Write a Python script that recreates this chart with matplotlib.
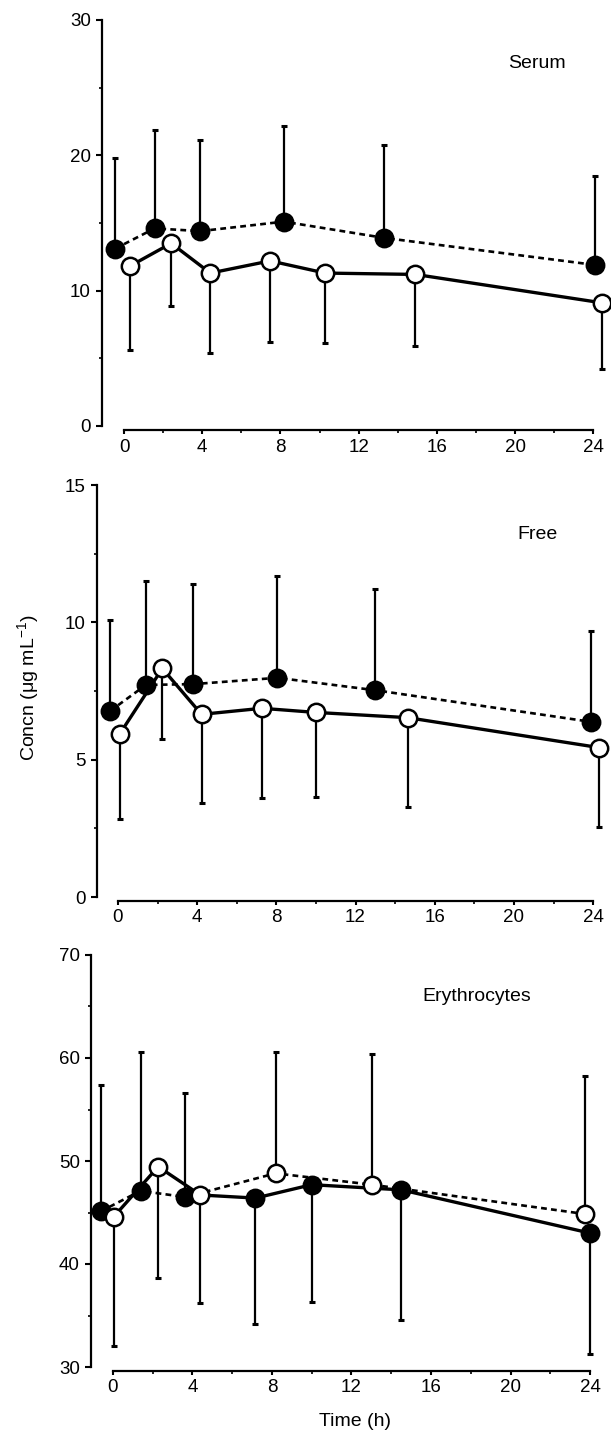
import matplotlib
matplotlib.use("Agg")
import matplotlib.pyplot as plt
from matplotlib.ticker import MultipleLocator
import numpy as np

plt.rcParams['font.family'] = ['Liberation Sans', 'DejaVu Sans']
plt.rcParams['mathtext.fontset'] = 'custom'
plt.rcParams['mathtext.rm'] = 'Liberation Sans'
plt.rcParams['mathtext.it'] = 'Liberation Sans:italic'

# series A: dashed line, error bars upwards
# series B: solid line, error bars downwards

# Serum
serum_t_a = [-0.46, 1.56, 3.9, 8.17, 13.3, 24.1]
serum_a = [13.1, 14.6, 14.4, 15.1, 13.9, 11.9]
serum_a_hi = [19.8, 21.9, 21.1, 22.2, 20.8, 18.5]
serum_t_b = [0.28, 2.41, 4.41, 7.47, 10.29, 14.9, 24.45]
serum_b = [11.8, 13.5, 11.3, 12.2, 11.3, 11.2, 9.1]
serum_b_lo = [5.6, 8.9, 5.4, 6.2, 6.1, 5.9, 4.2]

# Free
free_t_a = [-0.4, 1.41, 3.8, 8.05, 12.98, 23.87]
free_a = [6.77, 7.72, 7.75, 7.98, 7.53, 6.38]
free_a_hi = [10.1, 11.5, 11.4, 11.7, 11.2, 9.7]
free_t_b = [0.1, 2.24, 4.22, 7.26, 10.0, 14.63, 24.3]
free_b = [5.95, 8.32, 6.65, 6.87, 6.72, 6.53, 5.44]
free_b_lo = [2.84, 5.77, 3.41, 3.62, 3.65, 3.28, 2.56]

# Erythrocytes
ery_t_a = [-0.62, 1.39, 3.65, 8.18, 13.03, 23.75]
ery_a = [45.1, 47.1, 46.5, 48.8, 47.7, 44.85]
ery_a_hi = [57.4, 60.6, 56.6, 60.6, 60.4, 58.3]
ery_t_b = [0.05, 2.28, 4.4, 7.17, 10.0, 14.5, 24.0]
ery_b = [44.6, 49.45, 46.7, 46.4, 47.7, 47.2, 43.0]
ery_b_lo = [32.0, 38.6, 36.2, 34.2, 36.3, 34.6, 31.3]

panels = [
    dict(name="Serum", ta=serum_t_a, ya=serum_a, hi=serum_a_hi,
         tb=serum_t_b, yb=serum_b, lo=serum_b_lo,
         fill_a=[1] * 6, fill_b=[0] * 7,
         ylim=(0, 30), major=10, minor=5, label_xy=(21.1, 26.75),
         rect=[102 / 611, 1011 / 1437, 503 / 611, 406 / 1437], xlim=(-1.13, 24.6)),
    dict(name="Free", ta=free_t_a, ya=free_a, hi=free_a_hi,
         tb=free_t_b, yb=free_b, lo=free_b_lo,
         fill_a=[1] * 6, fill_b=[0] * 7,
         ylim=(0, 15), major=5, minor=2.5, label_xy=(21.2, 13.2),
         rect=[97 / 611, 540 / 1437, 508 / 611, 412 / 1437], xlim=(-1.06, 24.6)),
    dict(name="Erythrocytes", ta=ery_t_a, ya=ery_a, hi=ery_a_hi,
         tb=ery_t_b, yb=ery_b, lo=ery_b_lo,
         fill_a=[1, 1, 1, 0, 0, 0], fill_b=[0, 0, 0, 1, 1, 1, 1],
         ylim=(30, 70), major=10, minor=5, label_xy=(18.3, 66.0),
         rect=[91 / 611, 70 / 1437, 511 / 611, 412 / 1437], xlim=(-1.1, 24.6)),
]

fig = plt.figure(figsize=(6.11, 14.37), dpi=100)

for p in panels:
    ax = fig.add_axes(p["rect"])
    ta, ya, hi = np.array(p["ta"]), np.array(p["ya"]), np.array(p["hi"])
    tb, yb, lo = np.array(p["tb"]), np.array(p["yb"]), np.array(p["lo"])

    ax.errorbar(ta, ya, yerr=[np.zeros_like(ya), hi - ya], fmt='none',
                ecolor='k', elinewidth=1.6, capsize=2.5, capthick=2.2, zorder=2)
    ax.errorbar(tb, yb, yerr=[yb - lo, np.zeros_like(yb)], fmt='none',
                ecolor='k', elinewidth=1.6, capsize=2.5, capthick=2.2, zorder=2)

    ax.plot(ta, ya, color='k', lw=1.9, dashes=(2.2, 1.6), zorder=3, clip_on=False)
    ax.plot(tb, yb, color='k', lw=2.4, zorder=3, clip_on=False)

    for t, y, f in list(zip(ta, ya, p["fill_a"])) + list(zip(tb, yb, p["fill_b"])):
        ax.plot(t, y, 'o', ms=12.5, mfc='k' if f else 'w', mec='k', mew=1.8,
                zorder=4, clip_on=False)

    ax.text(p["label_xy"][0], p["label_xy"][1], p["name"], fontsize=14,
            ha='center', va='center')

    ax.set_xlim(*p["xlim"])
    ax.set_ylim(*p["ylim"])
    ax.xaxis.set_major_locator(MultipleLocator(4))
    ax.xaxis.set_minor_locator(MultipleLocator(2))
    ax.yaxis.set_major_locator(MultipleLocator(p["major"]))
    ax.yaxis.set_minor_locator(MultipleLocator(p["minor"]))

    for s in ["top", "right"]:
        ax.spines[s].set_visible(False)
    ax.spines["left"].set_linewidth(1.6)
    ax.spines["bottom"].set_linewidth(1.6)
    ax.spines["bottom"].set_position(("outward", 3))
    ax.spines["bottom"].set_bounds(0, 24)
    ax.spines["left"].set_bounds(*p["ylim"])

    ax.tick_params(axis='y', which='major', length=4, width=1.5, pad=4, labelsize=13.5)
    ax.tick_params(axis='y', which='minor', length=2, width=1.2)
    ax.tick_params(axis='x', which='major', length=3, width=1.5, pad=3, labelsize=13.5)
    ax.tick_params(axis='x', which='minor', length=2, width=1.2)

fig.text(28 / 611, 1 - 688 / 1437, r"Concn (μg mL$^{-1}$)", rotation=90,
         ha='center', va='center', fontsize=14)
fig.text(355 / 611, 1 - 1421 / 1437, "Time (h)", ha='center', va='center', fontsize=14)

fig.savefig("out.png", dpi=100)
